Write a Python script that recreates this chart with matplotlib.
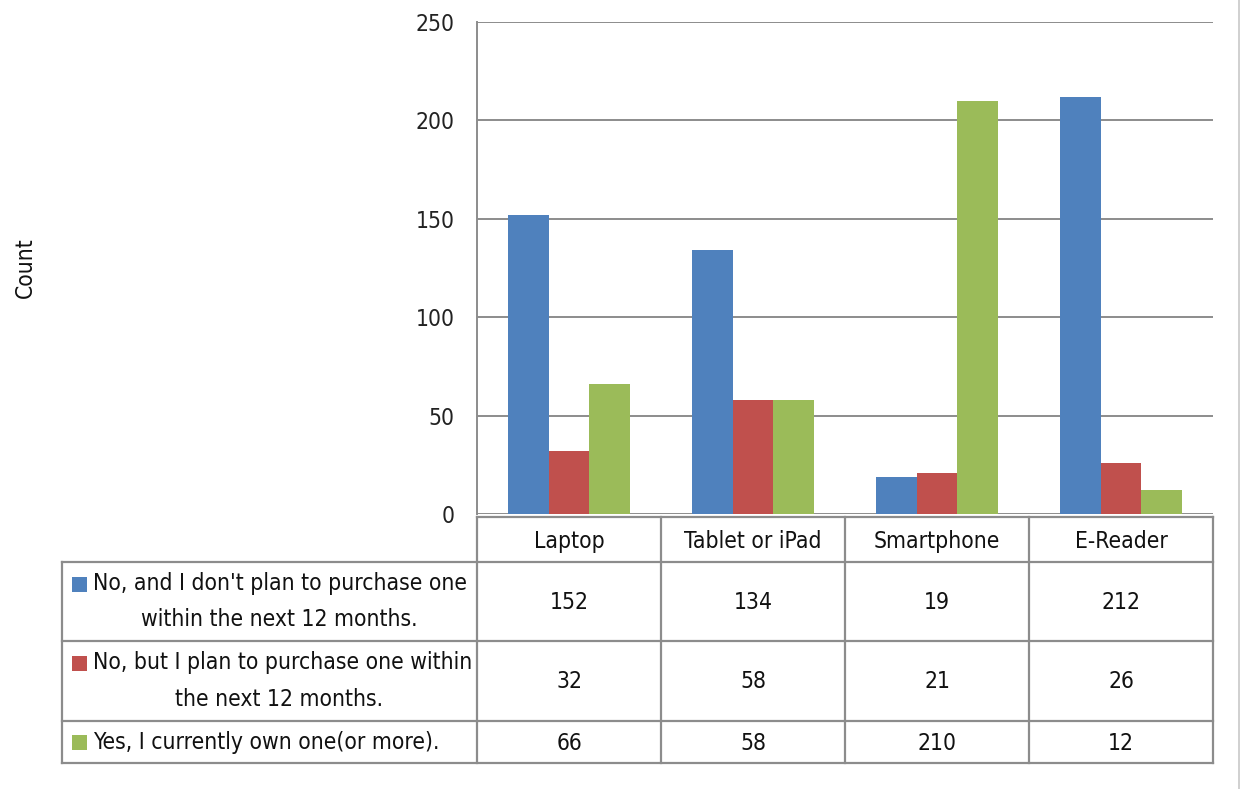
import matplotlib
matplotlib.use("Agg")
import matplotlib.pyplot as plt
from matplotlib.patches import Rectangle
from matplotlib.lines import Line2D

# --- data -------------------------------------------------------------
categories = ["Laptop", "Tablet or iPad", "Smartphone", "E-Reader"]
series_names = [
    ("No, and I don't plan to purchase one", "within the next 12 months."),
    ("No, but I plan to purchase one within", "the next 12 months."),
    ("Yes, I currently own one(or more).",),
]
no_no_plan = [152, 134, 19, 212]
no_plan = [32, 58, 21, 26]
yes_own = [66, 58, 210, 12]
y_ticks = [0, 50, 100, 150, 200, 250]
y_label = "Count"

colors = ["#4F81BD", "#C0504D", "#9BBB59"]
grid_color = "#8C8C8C"
text_color = "#111111"

plt.rcParams["font.family"] = ["DejaVu Sans"]
plt.rcParams["font.stretch"] = "condensed"

W, H = 1240, 789
fig = plt.figure(figsize=(W / 100, H / 100), dpi=100)

# plot area in pixel coordinates (from the top-left corner)
px_left, px_right, px_top, px_bottom = 477, 1213, 22, 514
ax = fig.add_axes([px_left / W, 1 - px_bottom / H,
                   (px_right - px_left) / W, (px_bottom - px_top) / H])

values = [no_no_plan, no_plan, yes_own]
n = len(categories)
bar_w = 0.222
for i, (vals, c) in enumerate(zip(values, colors)):
    xs = [k + (i - 1) * bar_w for k in range(n)]
    ax.bar(xs, vals, width=bar_w, color=c, zorder=3, linewidth=0)

fs = 16.4
ax.set_xlim(-0.5, n - 0.5)
ax.set_ylim(0, 250)
ax.set_yticks(y_ticks)
ax.set_yticklabels([str(t) for t in y_ticks], fontsize=fs, color="#222222")
ax.set_xticks([])
ax.tick_params(axis="y", length=0, pad=16)
ax.yaxis.grid(True, color=grid_color, linewidth=1.4, zorder=0)
for side in ["top", "right", "bottom"]:
    ax.spines[side].set_visible(False)
ax.spines["left"].set_color(grid_color)
ax.spines["left"].set_linewidth(1.4)
fig.text(25 / W, 1 - 268 / H, y_label, rotation=90, fontsize=fs,
         ha="center", va="center", color=text_color)

# --- data table beneath the plot --------------------------------------
tab = fig.add_axes([0, 0, 1, 1], zorder=5)
tab.set_xlim(0, W)
tab.set_ylim(H, 0)
tab.axis("off")
tab.patch.set_alpha(0)

col_edges = [px_left + k * (px_right - px_left) / n for k in range(n + 1)]
label_left = 62
row_edges = [517, 562, 641, 721, 763]
lw = 1.6


def hline(y, x0, x1):
    tab.add_line(Line2D([x0, x1], [y, y], color=grid_color, lw=lw))


def vline(x, y0, y1, color=grid_color, width=lw):
    tab.add_line(Line2D([x, x], [y0, y1], color=color, lw=width))


hline(row_edges[0], px_left, px_right)
for y in row_edges[1:]:
    hline(y, label_left, px_right)
for x in col_edges:
    vline(x, row_edges[0], row_edges[-1])
vline(label_left, row_edges[1], row_edges[-1])

# faint chart-area border on the right
vline(W - 1.5, 0, H, color="#C8C8C8", width=1.2)

for k, cat in enumerate(categories):
    cx = (col_edges[k] + col_edges[k + 1]) / 2
    tab.text(cx, (row_edges[0] + row_edges[1]) / 2 + 2, cat, ha="center",
             va="center", fontsize=fs, color=text_color)

for r, (vals, c, name) in enumerate(zip(values, colors, series_names)):
    top, bot = row_edges[r + 1], row_edges[r + 2]
    mid = (top + bot) / 2
    for k, v in enumerate(vals):
        cx = (col_edges[k] + col_edges[k + 1]) / 2
        tab.text(cx, mid + 1, str(v), ha="center", va="center",
                 fontsize=fs, color=text_color)
    if len(name) == 2:
        y1, y2 = mid - 18, mid + 18
        tab.add_patch(Rectangle((72, y1 - 7), 15, 15, color=c, lw=0))
        tab.text(93, y1, name[0], ha="left", va="center", fontsize=fs, color=text_color)
        tab.text(279, y2, name[1], ha="center", va="center", fontsize=fs, color=text_color)
    else:
        tab.add_patch(Rectangle((72, mid - 7), 15, 15, color=c, lw=0))
        tab.text(93, mid, name[0], ha="left", va="center", fontsize=fs, color=text_color)

fig.savefig("out.png", dpi=100, facecolor="white")
